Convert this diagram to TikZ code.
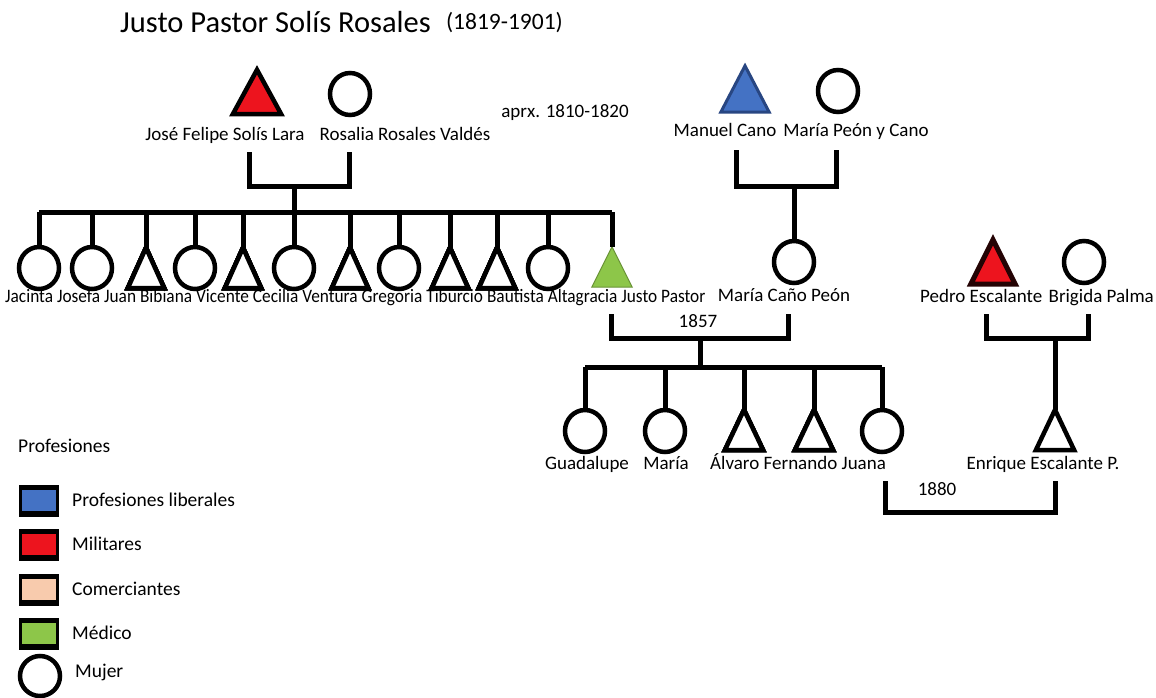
\documentclass[tikz,border=0pt]{standalone}
\usepackage{fontspec}
\setmainfont{Carlito}
\newfontfamily\schmal[FakeStretch=0.91]{Carlito}
\usetikzlibrary{shapes.geometric,positioning}
\definecolor{militar}{RGB}{237,20,30}
\definecolor{liberal}{RGB}{68,114,196}
\definecolor{liberalrand}{RGB}{40,70,130}
\definecolor{comercio}{RGB}{248,203,173}
\definecolor{medico}{RGB}{141,198,73}

% Frau: Kreis, Mann: Dreieck (Knoten + Umriss)
\newcommand{\frau}[2]{\node[frau] (#1) at (#2) {};}
\newcommand{\mann}[4][fill=white]{%
  \node[mann, #2] (#3) at (#4) {};
  \draw[umriss, #1] (#3.south west) -- (#3.north) -- (#3.south east) -- cycle;}

\begin{document}
\begin{tikzpicture}[x=1pt, y=-1pt,
    umriss/.style={line width=4.5pt, line join=miter, draw=black},
    frau/.style={draw, ellipse, line width=4.5pt, minimum width=40pt, minimum height=42pt, inner sep=0pt},
    mann/.style={minimum width=36pt, minimum height=40pt, inner sep=0pt},
    linie/.style={line width=5pt},
    beschr/.style={font=\fontsize{19}{22}\selectfont, inner sep=0pt, text height=14pt, text depth=4pt},
    kname/.style={font=\schmal\fontsize{19}{22}\selectfont, inner sep=0pt, text height=14pt, text depth=4pt, node distance=3.6pt},
    legende/.style={beschr, font=\fontsize{19.5}{22}\selectfont, anchor=west},
  ]
    % Hintergrund und Rahmen
    \fill[white] (0,0) rectangle (1156,698);
    \useasboundingbox (0,0) rectangle (1156,698);

    % Titel
    \node[anchor=west, inner sep=0pt, font=\fontsize{30.5}{34}\selectfont] (titel) at (120,22) {Justo Pastor Solís Rosales};
    \node[anchor=east, inner sep=0pt, font=\fontsize{23.5}{26}\selectfont] (jahre) at (563,23) {(1819-1901)};

    % Eltern: José Felipe und Rosalia
    \mann[fill=militar]{minimum width=48pt, minimum height=44pt}{felipe}{257,92};
    \frau{rosalia}{350,94}
    \node[beschr] (lfelipe) at (225,135) {José Felipe Solís Lara};
    \node[beschr] (lrosalia) at (405,135) {Rosalia Rosales Valdés};
    \node[beschr] (epoca) at (565,113) {aprx. 1810-1820};

    % Eltern: Manuel Cano und María Peón
    \mann[fill=liberal, draw=liberalrand, line width=3pt]{minimum width=48pt, minimum height=46pt}{manuel}{745,89};
    \frau{mpeon}{838,91}
    \node[beschr] (lmanuel) at (725,131) {Manuel Cano};
    \node[beschr] (lmpeon) at (856,131) {María Peón y Cano};

    % Eltern: Pedro Escalante und Brigida Palma
    \mann[fill=militar, draw=black!85!militar, line width=5pt]{minimum width=44pt, minimum height=44pt}{pedro}{993,262};
    \frau{brigida}{1084,262}
    \node[beschr, anchor=east] (lbrigida) at (1154,297) {Brigida Palma};
    \node[beschr, anchor=east] (lpedro) at ([xshift=-6pt]lbrigida.west) {Pedro Escalante};

    % Geschwister (Kinder von José Felipe)
    \foreach \k/\x in {jacinta/39, josefa/92, bibiana/195, cecilia/294, gregoria/399, altagracia/548}
        \frau{\k}{\x,268}
    \foreach \k/\x in {juan/146, vicente/243, ventura/350, tiburcio/450, bautista/497}
        \mann{}{\k}{\x,268};
    \mann[fill=medico, draw=medico!75!black, line width=1pt]{minimum width=40pt, minimum height=40pt}{justo}{612,267};
    \node[kname, anchor=west] (ljacinta) at (5,297) {Jacinta};
    \foreach \k/\t [remember=\k as \v (initially jacinta)] in {josefa/Josefa, juan/Juan, bibiana/Bibiana,
        vicente/Vicente, cecilia/Cecilia, ventura/Ventura, gregoria/Gregoria, tiburcio/Tiburcio,
        bautista/Bautista, altagracia/Altagracia, justo/Justo Pastor}
        \node[kname, right=of l\v] (l\k) {\t};

    % María Caño Peón
    \frau{mcano}{794,262}
    \node[beschr] (lmcano) at (784,296) {María Caño Peón};

    % Kinder von Justo Pastor
    \foreach \k/\x in {guadalupe/585, maria/665, juana/882}
        \frau{\k}{\x,431}
    \foreach \k/\x in {alvaro/744, fernando/814}
        \mann{minimum width=38pt, minimum height=40pt}{\k}{\x,430};
    \mann{minimum width=38pt, minimum height=40pt}{enrique}{1055,430};
    \node[beschr] (lguadalupe) at (587,464) {Guadalupe};
    \node[beschr] (lmaria) at (666,464) {María};
    \node[beschr, anchor=west] (lalvaro) at (710,464) {Álvaro};
    \node[beschr, right=4pt of lalvaro] (lfernando) {Fernando};
    \node[beschr, right=4pt of lfernando] (ljuana) {Juana};
    \node[beschr] (lenrique) at (1043,464) {Enrique Escalante P.};

    % Verbindungslinien
    \coordinate (ehe1) at (0,186);
    \coordinate (hijos1) at (0,212);
    \draw[linie] (249,152) |- (ehe1 -| 349,0) -- (349,152);
    \draw[linie] (ehe1 -| 294,0) -- (hijos1 -| 294,0);
    \draw[linie] (hijos1 -| jacinta) -- (hijos1 -| justo);
    \foreach \k in {jacinta, josefa, juan, bibiana, vicente, cecilia, ventura, gregoria, tiburcio, bautista, altagracia, justo}
        \draw[linie] (hijos1 -| \k) -- (\k.north);

    \coordinate (ehe2) at (0,186);
    \draw[linie] (736,150) |- (ehe2 -| 836,0) -- (836,150);
    \draw[linie] (ehe2 -| mcano) -- (mcano.north);

    \coordinate (ehe3) at (0,338);
    \draw[linie] (986,314) |- (ehe3 -| 1088,0) -- (1088,314);
    \draw[linie] (ehe3 -| enrique) -- (enrique.north);

    % Heirat 1857
    \coordinate (ehe4) at (0,338);
    \coordinate (hijos2) at (0,367);
    \draw[linie] (611,314) |- (ehe4 -| 788,0) -- (788,314);
    \node[beschr] (a1857) at (698,322) {1857};
    \draw[linie] (ehe4 -| 700,0) -- (hijos2 -| 700,0);
    \draw[linie] (hijos2 -| guadalupe) -- (hijos2 -| juana);
    \foreach \k in {guadalupe, maria, alvaro, fernando, juana}
        \draw[linie] (hijos2 -| \k) -- (\k.north);

    % Heirat 1880
    \coordinate (ehe5) at (0,512);
    \draw[linie] (885,481) |- (ehe5 -| enrique) -- (1055,481);
    \node[beschr] (a1880) at (937,490) {1880};

    % Legende
    \node[legende] (lprof) at (18,447) {Profesiones};
    \foreach \farbe/\t/\y in {liberal/Profesiones liberales/501, militar/Militares/545,
        comercio/Comerciantes/590, medico/Médico/634} {
        \fill[black] (19,\y-16) rectangle (59,\y+16);
        \fill[\farbe] (22,\y-11) rectangle (56,\y+10);
        \node[legende] (ley\farbe) at (72,\y) {\t};
    }
    \node[frau, minimum width=40pt, minimum height=40pt] (leymujer) at (40,676) {};
    \node[legende] (lmujer) at (75,672) {Mujer};
\end{tikzpicture}
\end{document}
